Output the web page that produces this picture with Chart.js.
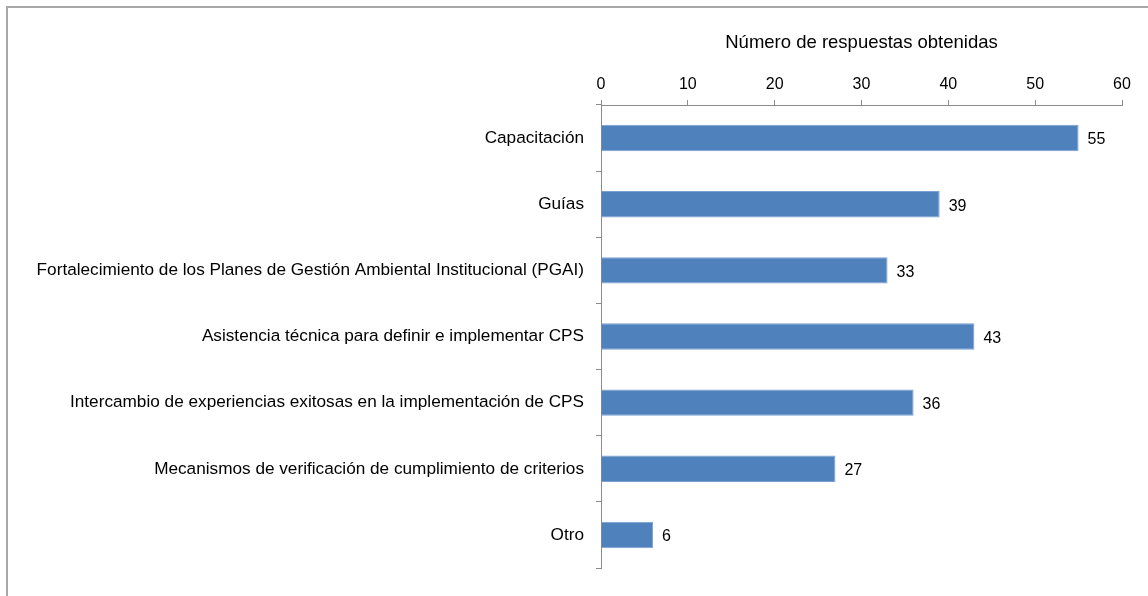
<!DOCTYPE html>
<html>
<head>
<meta charset="utf-8">
<script src="https://cdn.jsdelivr.net/npm/chart.js@4/dist/chart.umd.min.js"></script>
<style>
  html, body { margin:0; padding:0; background:#fff; }
  #wrap { position:relative; width:1148px; height:596px; }
  #frame { position:absolute; left:6px; top:6px; right:0; bottom:0;
           border-top:2px solid #a8a8a8; border-left:2px solid #a8a8a8; }
  canvas { position:absolute; left:0; top:0; }
</style>
</head>
<body>
<div id="wrap">
  <div id="frame"></div>
  <canvas id="chart" width="1148" height="596"></canvas>
</div>
<script>
// datos
const categories = [
  'Capacitación',
  'Guías',
  'Fortalecimiento de los Planes de Gestión Ambiental Institucional (PGAI)',
  'Asistencia técnica para definir e implementar CPS',
  'Intercambio de experiencias exitosas en la implementación de CPS',
  'Mecanismos de verificación de cumplimiento de criterios',
  'Otro'
];
const respuestas = [55, 39, 33, 43, 36, 27, 6];
const axisTitle = 'Número de respuestas obtenidas';
const xMin = 0, xMax = 60, xStep = 10;

const FONT = 'Liberation Sans, Arial, sans-serif';
const AXIS_GRAY = '#8c8c8c';

// etiquetas de valor a la derecha de cada barra
const valueLabels = {
  id: 'valueLabels',
  afterDatasetsDraw(chart) {
    const { ctx } = chart;
    const meta = chart.getDatasetMeta(0);
    ctx.save();
    ctx.font = '16px ' + FONT;
    ctx.fillStyle = '#000';
    ctx.textAlign = 'left';
    ctx.textBaseline = 'middle';
    meta.data.forEach((bar, i) => {
      ctx.fillText(String(respuestas[i]), bar.x + 9, bar.y + 2);
    });
    ctx.restore();
  }
};

new Chart(document.getElementById('chart'), {
  type: 'bar',
  data: {
    labels: categories,
    datasets: [{
      data: respuestas,
      backgroundColor: '#4f81bd',
      borderColor: '#7ba0d2',
      borderWidth: 1,
      barPercentage: 0.4,
      categoryPercentage: 1
    }]
  },
  options: {
    indexAxis: 'y',
    animation: false, responsive: false,
    layout: { padding: { top: 0, right: 26, bottom: 28, left: 0 } },
    plugins: { legend: { display: false }, tooltip: { enabled: false } },
    scales: {
      x: {
        position: 'top',
        min: xMin, max: xMax,
        ticks: { stepSize: xStep, color: '#000', font: { family: FONT, size: 16 }, padding: 6 },
        grid: { drawOnChartArea: false, drawTicks: true, tickLength: 5, color: AXIS_GRAY },
        border: { display: true, color: AXIS_GRAY, width: 1 },
        title: { display: true, text: axisTitle, color: '#000',
                 font: { family: FONT, size: 18.5 }, padding: { top: 32, bottom: 0 } },
        afterFit(scale) { scale.height = 105; }
      },
      y: {
        ticks: { color: '#000', font: { family: FONT, size: 17.2 }, padding: 12 },
        grid: { drawOnChartArea: false, drawTicks: true, tickLength: 5, color: AXIS_GRAY, offset: true },
        border: { display: true, color: AXIS_GRAY, width: 1 },
        afterFit(scale) { scale.width = 601; }
      }
    }
  },
  plugins: [valueLabels]
});
</script>
</body>
</html>
